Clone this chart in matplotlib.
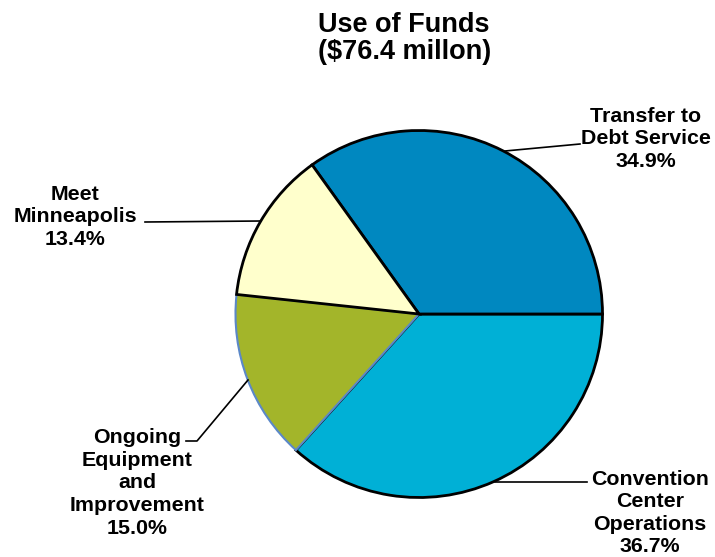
import matplotlib
matplotlib.use("Agg")
import matplotlib.pyplot as plt

# Use of funds, share of total (%)
categories = ["Transfer to\nDebt Service", "Meet\nMinneapolis",
              "Ongoing\nEquipment\nand\nImprovement", "Convention\nCenter\nOperations"]
shares = [34.9, 13.4, 15.0, 36.7]
colors = ["#0088C0", "#FFFFCC", "#A3B52A", "#00B0D6"]
title_lines = ["Use of Funds", "($76.4 millon)"]

W, H = 715, 557
fig = plt.figure(figsize=(W / 100, H / 100), dpi=100)
ax = fig.add_axes([0, 0, 1, 1])
ax.set_xlim(0, W)
ax.set_ylim(0, H)
ax.set_aspect("equal")
ax.axis("off")

FONT = ["Liberation Sans", "DejaVu Sans"]


def Y(y):
    """Convert a top-down pixel row into the axes' upward y coordinate."""
    return H - y


wedges, _ = ax.pie(shares, colors=colors, startangle=0, counterclock=True,
                   center=(419, Y(314)), radius=183.5, frame=True,
                   wedgeprops=dict(edgecolor="black", linewidth=2.0))
ax.set_xlim(0, W)
ax.set_ylim(0, H)
ax.axis("off")

# stacking so the green slice keeps its thin blue outline against the cyan one
wedges[3].set_zorder(1)
wedges[2].set_zorder(2)
wedges[2].set_edgecolor("#5B88C8")
wedges[2].set_linewidth(1.5)
wedges[1].set_zorder(3)
wedges[0].set_zorder(3)

# title
ax.text(404, Y(25), title_lines[0], ha="center", va="center",
        fontsize=19.5, fontweight="bold", family=FONT)
ax.text(405, Y(52), title_lines[1], ha="center", va="center",
        fontsize=19.5, fontweight="bold", family=FONT)

# slice labels and leader lines
label_pos = [(646, 139), (75, 217), (137, 483), (650, 513)]
leaders = [
    [(505, 151), (580, 144)],
    [(145, 222), (261, 221)],
    [(186, 441), (197, 441), (248, 380)],
    [(495, 482), (587, 482)],
]
for name, val, (lx, ly), pts in zip(categories, shares, label_pos, leaders):
    ax.text(lx, Y(ly), f"{name}\n{val:.1f}%", ha="center", va="center",
            multialignment="center", fontsize=15.4, fontweight="bold",
            family=FONT, linespacing=1.24, zorder=5)
    xs = [p[0] for p in pts]
    ys = [Y(p[1]) for p in pts]
    ax.plot(xs, ys, color="black", linewidth=1.2, zorder=4)

fig.savefig("out.png", dpi=100)
